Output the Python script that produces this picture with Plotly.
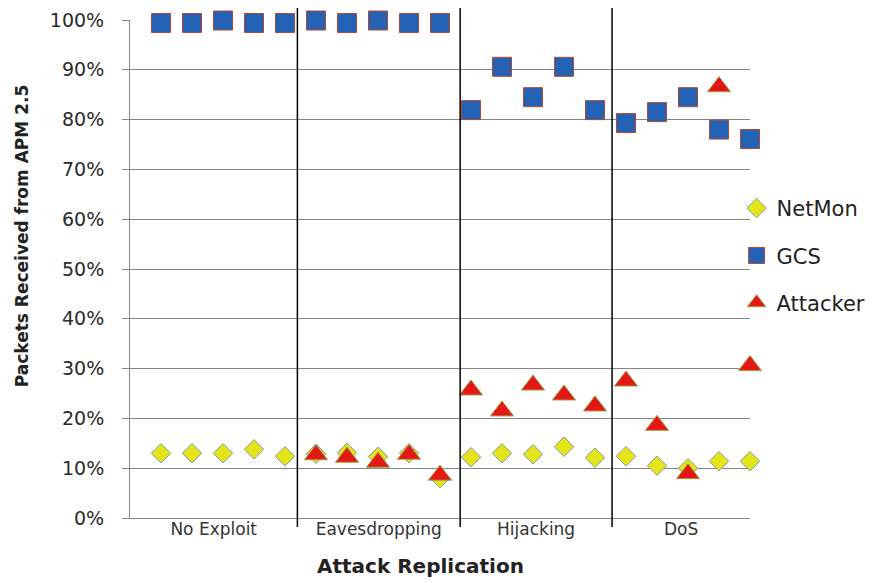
import plotly.graph_objects as go

# ---- data ----
replication = list(range(1, 21))
categories = ["No Exploit", "Eavesdropping", "Hijacking", "DoS"]
category_bounds = [0, 5.4, 10.65, 15.55, 20]

netmon = [13.0, 13.0, 13.0, 13.8, 12.4,
          12.9, 13.1, 12.3, 13.0, 8.0,
          12.2, 13.0, 12.8, 14.3, 12.1,
          12.4, 10.5, 10.0, 11.4, 11.4]
gcs = [99.4, 99.4, 99.9, 99.4, 99.4,
       99.9, 99.4, 99.9, 99.4, 99.4,
       81.9, 90.6, 84.5, 90.6, 81.9,
       79.3, 81.5, 84.5, 78.0, 76.1]
attacker = [None, None, None, None, None,
            12.7, 12.2, 11.2, 12.8, 8.6,
            25.7, 21.5, 26.7, 24.7, 22.5,
            27.5, 18.6, 8.9, 86.6, 30.6]

y_ticks = [0, 10, 20, 30, 40, 50, 60, 70, 80, 90, 100]

def frac(vals):
    return [None if v is None else v / 100.0 for v in vals]

FONT = "DejaVu Sans"
fig = go.Figure()
fig.add_trace(go.Scatter(
    x=replication, y=frac(netmon), mode="markers", name="NetMon", legendgroup="a",
    marker=dict(symbol="diamond", size=15, color="#E4E41A",
                line=dict(color="#8A9AAA", width=1)),
    cliponaxis=False))
fig.add_trace(go.Scatter(
    x=replication, y=frac(gcs), mode="markers", name="GCS", legendgroup="b",
    marker=dict(symbol="square", size=19, color="#2462B6",
                line=dict(color="#B5472F", width=1)),
    cliponaxis=False))
fig.add_trace(go.Scatter(
    x=replication, y=frac(attacker), mode="markers", name="Attacker", legendgroup="c",
    marker=dict(symbol="triangle-up", size=20, color="#E51616",
                line=dict(color="#9AA040", width=1)),
    cliponaxis=False))

# separators between attack categories
for b in category_bounds[1:-1]:
    fig.add_shape(type="line", xref="x", yref="paper", x0=b, x1=b, y0=-0.018, y1=1.032,
                  line=dict(color="black", width=1.5), layer="above")

centers = [(category_bounds[i] + category_bounds[i + 1]) / 2 for i in range(len(categories))]

fig.update_layout(
    width=865, height=575,
    margin=dict(l=122, r=123, t=12, b=65, autoexpand=False),
    paper_bgcolor="white", plot_bgcolor="white",
    font=dict(family=FONT, color="#333333"),
    showlegend=True,
    legend=dict(xref="container", yref="container", x=0.8423, y=0.687,
                xanchor="left", yanchor="top",
                font=dict(family=FONT, size=21, color="#222222"),
                tracegroupgap=17, bgcolor="rgba(0,0,0,0)"),
    xaxis=dict(range=[0, 20], showgrid=False, zeroline=False, automargin=False,
               showline=True, linecolor="#858585", linewidth=1,
               tickmode="array", tickvals=centers, ticktext=categories,
               ticks="", ticklabelstandoff=-4,
               tickfont=dict(family=FONT, size=17, color="#333333")),
    yaxis=dict(range=[0, 1], tickmode="array", tickvals=[v / 100 for v in y_ticks],
               ticktext=[f"{v}%" for v in y_ticks], automargin=False,
               showgrid=True, gridcolor="#858585", gridwidth=1, zeroline=False,
               showline=True, linecolor="#858585", linewidth=1,
               ticks="outside", ticklen=7, tickcolor="#858585",
               ticklabelstandoff=14,
               tickfont=dict(family=FONT, size=19, color="#2a2a2a")),
)

fig.add_annotation(text="<b>Packets Received from APM 2.5</b>", textangle=-90,
                   xref="paper", yref="paper", x=-0.174, y=0.566,
                   xanchor="center", yanchor="middle",
                   showarrow=False, font=dict(family=FONT, size=17, color="#222222"))
fig.add_annotation(text="<b>Attack Replication</b>",
                   xref="paper", yref="paper", x=0.468, y=-0.0964,
                   xanchor="center", yanchor="middle",
                   showarrow=False, font=dict(family=FONT, size=20, color="#222222"))

fig.write_html("out.html")
